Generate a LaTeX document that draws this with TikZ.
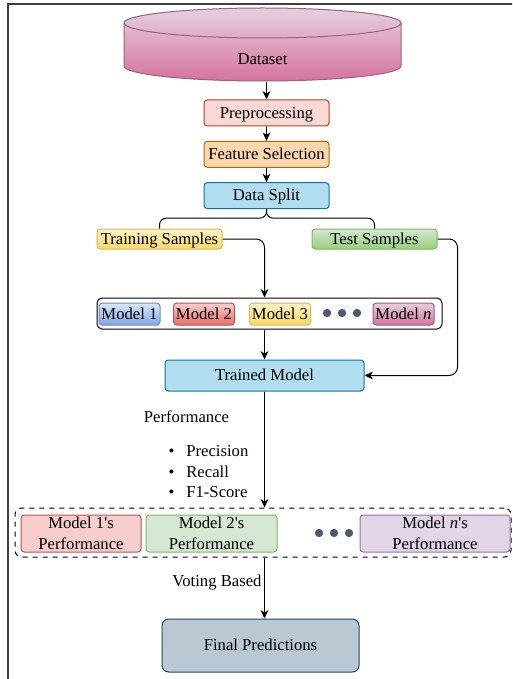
\documentclass[tikz,border=0pt]{standalone}
\usepackage{fontspec}
\setmainfont{Liberation Serif}
\newfontface\aposfont{Liberation Serif}
\usepackage{xcolor}
\usepackage{tikz}
\usetikzlibrary{arrows.meta}

\definecolor{pinkTop}{HTML}{E6D0DE}
\definecolor{pinkBot}{HTML}{D5739D}
\definecolor{pinkLine}{HTML}{996185}
\definecolor{redFill}{HTML}{FAD9D5}
\definecolor{redLine}{HTML}{AE4132}
\definecolor{orangeFill}{HTML}{FAD7AC}
\definecolor{orangeLine}{HTML}{B46504}
\definecolor{blueFill}{HTML}{B1DDF0}
\definecolor{blueLine}{HTML}{10739E}
\definecolor{yellowTop}{HTML}{FFF2CC}
\definecolor{yellowBot}{HTML}{FFD966}
\definecolor{yellowLine}{HTML}{D6B656}
\definecolor{greenTop}{HTML}{D5E8D4}
\definecolor{greenBot}{HTML}{97D077}
\definecolor{greenLine}{HTML}{82B366}
\definecolor{skyTop}{HTML}{DAE8FC}
\definecolor{skyBot}{HTML}{7EA6E0}
\definecolor{skyLine}{HTML}{6C8EBF}
\definecolor{roseTop}{HTML}{F8CECC}
\definecolor{roseBot}{HTML}{EA6B66}
\definecolor{roseLine}{HTML}{B85450}
\definecolor{lilacFill}{HTML}{E1D5E7}
\definecolor{lilacLine}{HTML}{9673A6}
\definecolor{slateFill}{HTML}{BAC8D3}
\definecolor{slateLine}{HTML}{23445D}
\definecolor{dotGray}{HTML}{4D5B6D}

\newcommand{\apos}{{\aposfont'}}

\begin{document}
\begin{tikzpicture}[x=0.6pt,y=-0.6pt,>={Stealth[length=5pt,width=4.6pt,inset=1.4pt]},semithick,node distance=24.8pt,
        box/.style={draw,rounded corners=2pt,minimum width=75pt,minimum height=15.6pt,inner sep=0.5pt,
            text height=7.4pt,text depth=1.2pt},
        shbox/.style n args={3}{box,top color=#1,bottom color=#2,draw=#3},
        mbox/.style={minimum width=36.6pt,minimum height=13.2pt},
        pbox/.style={box,text height=,text depth=,minimum height=22.2pt,align=center,font=\fontsize{10}{12.6}\selectfont},
        dot/.style={circle,fill=dotGray,inner sep=0pt,minimum size=5pt}]
    \clip (0,0) rectangle (512,679);
    \draw[black!75,line width=1pt] (8,700) -- (8,4) -- (530,4);

    % dataset cylinder
    \shade[top color=pinkTop,bottom color=pinkBot,draw=pinkLine] (124,23) -- (124,66)
        arc[start angle=180,end angle=360,x radius=83.1pt,y radius=9pt] -- (401,23)
        arc[start angle=0,end angle=180,x radius=83.1pt,y radius=9pt] -- cycle;
    \draw[pinkLine] (124,23) arc[start angle=180,end angle=360,x radius=83.1pt,y radius=9pt];
    \node[minimum height=27.6pt,inner sep=0pt] (dataset) at (262.5,59) {Dataset};

    \node[box,fill=redFill,draw=redLine] (prep) at (266.5,113) {Preprocessing};
    \node[box,fill=orangeFill,draw=orangeLine] (feat) [below of=prep] {Feature Selection};
    \node[box,fill=blueFill,draw=blueLine] (split) [below of=feat] {Data Split};

    \node[shbox={yellowTop}{yellowBot}{yellowLine},minimum height=12pt] (train) at (159.5,239) {Training Samples};
    \node[shbox={greenTop}{greenBot}{greenLine},minimum height=12pt] (test) at (374.5,239) {Test Samples};

    % models
    \node[draw,rounded corners=3pt,minimum width=207pt,minimum height=18.6pt] (grp) at (269.5,313.5) {};
    \node[shbox={skyTop}{skyBot}{skyLine},mbox] (m1) at (129.5,314) {Model 1};
    \node[shbox={roseTop}{roseBot}{roseLine},mbox] (m2) at (204,314) {Model 2};
    \node[shbox={yellowTop}{yellowBot}{yellowLine},mbox] (m3) at (280,314) {Model 3};
    \foreach \x [count=\i] in {327,342,357}
        \node[dot] (md\i) at (\x,313) {};
    \node[shbox={pinkTop}{pinkBot}{pinkLine},mbox] (mn) at (403.5,314) {Model \textit{n}};

    \node[box,fill=blueFill,draw=blueLine,minimum width=119.4pt,minimum height=18.6pt] (trained) at (264.5,375.5) {Trained Model};

    \node (perf) at (186.5,417) {Performance};
    \node[anchor=west,inner sep=0pt] (metrics) at (168,473) {\renewcommand\arraystretch{1.025}%
        \begin{tabular}{@{}c@{\hspace{7.2pt}}l@{}}
            \textbullet & Precision\\
            \textbullet & Recall\\
            \textbullet & F1-Score
        \end{tabular}};

    % performances
    \node[draw,dashed,rounded corners=4pt,minimum width=297.6pt,minimum height=29.4pt] (perfbox) at (263,532.5) {};
    \node[pbox,fill=roseTop,draw=roseLine,minimum width=72pt] (p1) at (81,533.5) {Model 1\apos s\\Performance};
    \node[pbox,fill=greenTop,draw=greenLine,minimum width=78.6pt] (p2) at (211.5,533.5) {Model 2\apos s\\Performance};
    \foreach \x [count=\i] in {319,334,349}
        \node[dot] (pd\i) at (\x,533) {};
    \node[pbox,fill=lilacFill,draw=lilacLine,minimum width=90pt] (pn) at (435,533.5) {Model \textit{n}\apos s\\Performance};

    \node (vote) at (217,583) {Voting Based};
    \node[box,fill=slateFill,draw=slateLine,rounded corners=4pt,minimum width=118.2pt,minimum height=31.8pt] (final) at (260.5,645.5) {Final Predictions};

    % connectors
    \draw[->] (dataset.south -| prep.north) -- (prep.north);
    \draw[->] (prep) -- (feat);
    \draw[->] (feat) -- (split);
    \draw[rounded corners=4pt] (split.south) -- ++(0,9) -| (train.north);
    \draw[rounded corners=4pt] (split.south) -- ++(0,9) -| (test.north);
    \draw[->,rounded corners=5pt] (train.east) -| (trained.north |- grp.north);
    \draw[->] (grp.south -| trained.north) -- (trained.north);
    \draw[->,rounded corners=5pt] (test.east) -- ++(20,0) |- (trained.east);
    \draw[->] (trained.south) -- (trained.south |- perfbox.north);
    \draw[->] (trained.south |- perfbox.south) -- (trained.south |- final.north);
\end{tikzpicture}
\end{document}
